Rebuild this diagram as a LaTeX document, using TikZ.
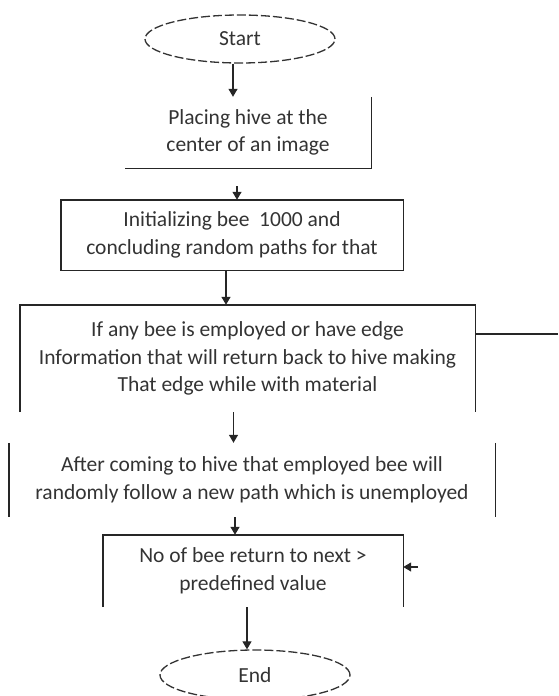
\documentclass[tikz,border=0pt]{standalone}
\usepackage{fontspec}
\setmainfont{Carlito}
\usepackage{tikz}
\usetikzlibrary{shapes.geometric,arrows.meta}

\begin{document}
\begin{tikzpicture}[x=1pt,y=-1pt,
  startstop/.style={ellipse,draw=black!80,dash pattern=on 9pt off 3pt,line width=1.3pt,minimum width=190pt,minimum height=48pt,inner sep=0pt,text=black!80},
  procbox/.style={rectangle,draw=none,align=center,inner sep=0pt,text=black!80},
  edgeline/.style={draw=black!85,line width=1.4pt},
  arrowline/.style={draw=black!85,line width=1.2pt,-{Triangle[length=8pt,width=9pt]}},
  every node/.style={font=\fontsize{21.5}{27.5}\selectfont}]
\useasboundingbox (0,0) rectangle (558,696);
% terminals
\node[startstop] (start) at (240,39) {Start};
\node[startstop,minimum height=50pt] (finish) at (255,675) {End};
% process boxes
\node[procbox,minimum width=246pt,minimum height=71pt] (place) at (248,132.5)
  {Placing hive at the\\center of an image};
\node[procbox,minimum width=342pt,minimum height=70pt] (init) at (232,235)
  {Initializing bee\ \ 1000 and\\concluding random paths for that};
\node[procbox,minimum width=455pt,minimum height=107pt] (employ) at (247.5,358.5)
  {If any bee is employed or have edge\\Information that will return back to hive making\\That edge while with material};
\node[procbox,minimum width=486pt,minimum height=74pt] (follow) at (252,480)
  {After coming to hive that employed bee will\\randomly follow a new path which is unemployed};
\node[procbox,minimum width=300pt,minimum height=72pt] (check) at (253,571)
  {No of bee return to next >\\predefined value};
% box borders as they show
\draw[edgeline] (place.north east) -- (place.south east) -- (place.south west);
\draw[edgeline] (init.north west) rectangle (init.south east);
\draw[edgeline] (employ.south west) -- (employ.north west) -- (employ.north east) -- (employ.south east);
\draw[edgeline] (follow.north west) -- (follow.south west);
\draw[edgeline] (follow.north east) -- (follow.south east);
\draw[edgeline] (check.south west) -- (check.north west) -- (check.north east) -- (check.south east);
% connectors
\coordinate (tiptwo) at (237,186);
\coordinate (loopout) at (558,334);
\coordinate (loopin) at (418,567);
\draw[arrowline] ([xshift=-7pt]start.south) -- ([xshift=-7pt]start.south |- place.north);
\draw[arrowline] (tiptwo) -- (tiptwo |- init.north);
\draw[arrowline] ([xshift=-6pt]init.south) -- ([xshift=-6pt]init.south |- employ.north);
\draw[arrowline] ([xshift=-14pt]employ.south) -- ([xshift=-14pt]employ.south |- follow.north);
\draw[arrowline] ([xshift=-17pt]follow.south) -- ([xshift=-17pt]follow.south |- check.north);
\draw[arrowline] ([xshift=-6pt]check.south) -- ([xshift=-6pt]check.south |- finish.north);
\draw[edgeline] ([yshift=24.5pt]employ.east) -- (loopout);
\draw[arrowline] (loopin) -- (loopin -| check.east);
\end{tikzpicture}
\end{document}
